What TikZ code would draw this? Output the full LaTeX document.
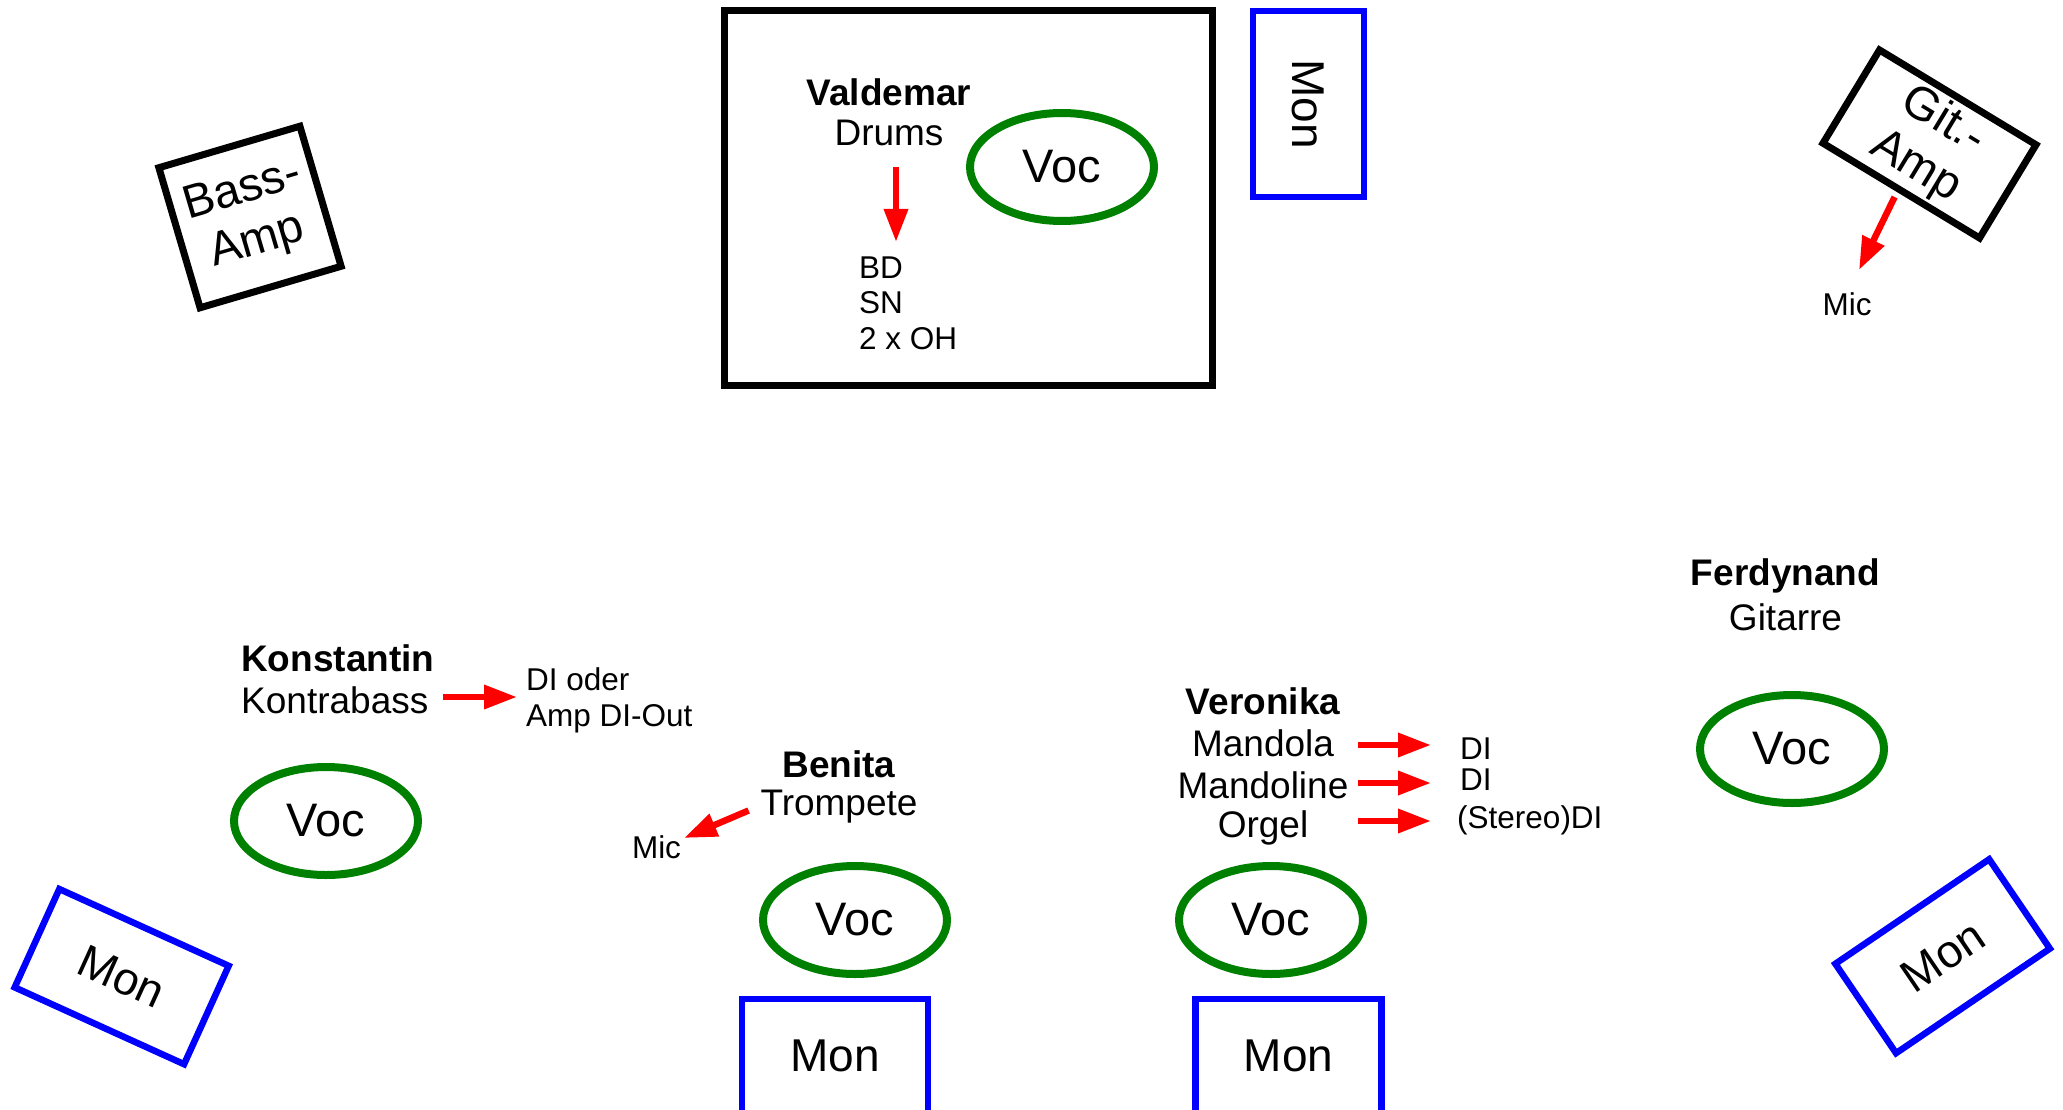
\documentclass[tikz,border=0pt]{standalone}
\usepackage{fontspec}
\setmainfont{Liberation Sans}
\usetikzlibrary{shapes.geometric,arrows.meta}
\definecolor{vocgreen}{RGB}{0,128,0}
\begin{document}
\begin{tikzpicture}[x=1pt,y=-1pt,
  amp/.style={draw=black, line width=7pt, inner sep=0pt, align=center, font=\fontsize{47}{53}\selectfont},
  mon/.style={draw=blue, line width=6.5pt, inner sep=0pt, font=\fontsize{46}{52}\selectfont, minimum width=186pt, minimum height=108pt},
  voc/.style={ellipse, draw=vocgreen, line width=8pt, inner sep=0pt, minimum width=184pt, minimum height=108pt, font=\fontsize{47}{52}\selectfont},
  person/.style={font=\bfseries\fontsize{37}{42}\selectfont, inner sep=0pt},
  instr/.style={font=\fontsize{37}{42}\selectfont, inner sep=0pt},
  small/.style={font=\fontsize{31.5}{36}\selectfont, inner sep=0pt, align=left},
  sig/.style={draw=red, line width=6.5pt, -{Triangle[length=33pt,width=23pt]}},
]
\clip (0,0) rectangle (2063,1110);
\useasboundingbox (0,0) rectangle (2063,1110);

% amps
\node[amp, rotate=16.4, minimum width=147pt, minimum height=146pt] (bassamp) at (250,217) {Bass-\\Amp};
\node[amp, rotate=-31.2, minimum width=183pt, minimum height=109pt] (gitamp) at (1929.5,144) {Git.-\\Amp};
\coordinate (ga1) at (1894.6,197);
\coordinate (ga2) at (1859,270);
\node[small] (gitmic) at (1847,304) {Mic};
\draw[sig] (ga1) -- (ga2);

% drum riser
\node[draw, line width=7pt, inner sep=0pt, minimum width=488pt, minimum height=374pt] (riser) at (968,198) {};
\node[person] (valdemar) at (889,92) {Valdemar};
\node[instr] (drums) at (889,133) {Drums};
\coordinate (dr1) at (896,167);
\coordinate (dr2) at (896,242);
\draw[sig] (dr1) -- (dr2);
\node[small, anchor=west, font=\fontsize{31.5}{35.5}\selectfont] (drummics) at (859,303) {BD\\SN\\2 x OH};
\node[voc] (vocdrum) at (1062,167) {Voc};
\node[mon, rotate=-90, minimum width=186pt, minimum height=111pt] (mondrum) at (1308.5,104) {Mon};

% Konstantin
\node[person, anchor=west] (konstantin) at (241,658) {Konstantin};
\node[instr, anchor=west] (kontrabass) at (241,700) {Kontrabass};
\coordinate (ko1) at (443,697);
\coordinate (ko2) at (517,697);
\draw[sig] (ko1) -- (ko2);
\node[small, anchor=west] (kodi) at (526,700) {DI oder\\Amp DI-Out};
\node[voc] (vocko) at (326,821) {Voc};
\node[mon, rotate=-24.4] (monko) at (121.7,976.6) {Mon};

% Benita
\node[person] (benita) at (839,764) {Benita};
\node[instr] (trompete) at (839,806.5) {Trompete};
\coordinate (be1) at (748.6,810.5);
\coordinate (be2) at (684,838);
\draw[sig] (be1) -- (be2);
\node[small] (bemic) at (656.5,847) {Mic};
\node[voc] (vocbe) at (855,920) {Voc};
\node[mon, minimum height=114pt] (monbe) at (835,1056) {Mon};

% Veronika
\node[person] (veronika) at (1263,701) {Veronika};
\node[instr] (mandola) at (1263,743) {Mandola};
\node[instr] (mandoline) at (1263,785.5) {Mandoline};
\node[instr] (orgel) at (1263,827.6) {Orgel};
\coordinate (ve1a) at (1358,745);
\coordinate (ve1b) at (1431,745);
\coordinate (ve2a) at (1358,783);
\coordinate (ve2b) at (1431,783);
\coordinate (ve3a) at (1358,821);
\coordinate (ve3b) at (1431,821);
\draw[sig] (ve1a) -- (ve1b);
\draw[sig] (ve2a) -- (ve2b);
\draw[sig] (ve3a) -- (ve3b);
\node[small, anchor=west] (vedi1) at (1460,749) {DI};
\node[small, anchor=west] (vedi2) at (1460,780) {DI};
\node[small, anchor=west] (vedi3) at (1457,820) {(Stereo)DI};
\node[voc] (vocve) at (1271,920) {Voc};
\node[mon, minimum height=114pt] (monve) at (1288.5,1056) {Mon};

% Ferdynand
\node[person] (ferdynand) at (1785.5,576) {Ferdynand};
\node[instr] (gitarre) at (1785.5,617) {Gitarre};
\node[voc] (vocfe) at (1792,749) {Voc};
\node[mon, rotate=34.2] (monfe) at (1942.6,956.2) {Mon};
\end{tikzpicture}
\end{document}
